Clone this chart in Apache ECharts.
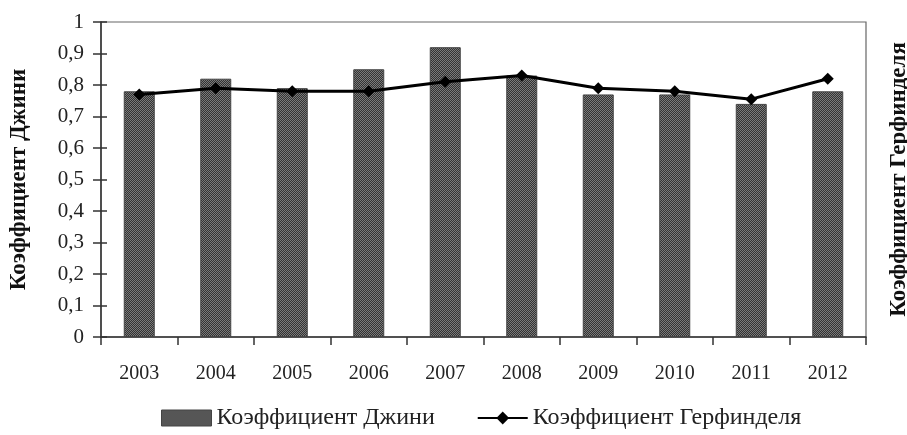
<!DOCTYPE html>
<html><head><meta charset="utf-8">
<script src="https://cdn.jsdelivr.net/npm/echarts@6/dist/echarts.min.js"></script>
<style>html,body{margin:0;padding:0;background:#fff}#c{width:907px;height:435px}</style>
</head><body><div id="c"></div>
<script>
const years = ['2003','2004','2005','2006','2007','2008','2009','2010','2011','2012'];
const gini = [0.78, 0.82, 0.79, 0.85, 0.92, 0.83, 0.77, 0.77, 0.74, 0.78];
const herfindahl = [0.77, 0.79, 0.78, 0.78, 0.81, 0.83, 0.79, 0.78, 0.755, 0.82];
const giniName = 'Коэффициент Джини';
const herfName = 'Коэффициент Герфинделя';

const FONT = '"Liberation Serif","Times New Roman",serif';
const pc = document.createElement('canvas');
pc.width = 2; pc.height = 2;
const g = pc.getContext('2d');
g.fillStyle = '#333333'; g.fillRect(0,0,2,2);
g.fillStyle = '#7a7a7a'; g.fillRect(0,0,1,1); g.fillRect(1,1,1,1);
const pattern = {image: pc, repeat: 'repeat'};

const chart = echarts.init(document.getElementById('c'));
const fmt = v => String(Math.round(v*10)/10).replace('.', ',');
chart.setOption({
  animation: false,
  grid: {left: 101, right: 41, top: 22, bottom: 98, outerBoundsMode: 'none', containLabel: false,
         show: true, borderColor: '#666', borderWidth: 1.2},
  legend: {
    bottom: 0, left: 156, itemGap: 42, itemWidth: 50, itemHeight: 16,
    textStyle: {fontFamily: FONT, fontSize: 24, color: '#222'},
    data: [
      {name: giniName, icon: 'rect', itemStyle: {color: pattern, borderColor: '#444', borderWidth: 1}},
      {name: herfName}
    ]
  },
  xAxis: {
    type: 'category', data: years,
    axisLine: {lineStyle: {color: '#333', width: 1.5}},
    axisTick: {show: true, length: 8, lineStyle: {color: '#333', width: 1.5}},
    axisLabel: {fontFamily: FONT, fontSize: 20, color: '#222', margin: 27}
  },
  yAxis: [
    {
      type: 'value', min: 0, max: 1, interval: 0.1, position: 'left',
      name: giniName, nameLocation: 'middle', nameRotate: 90, nameGap: 70,
      nameTextStyle: {fontFamily: FONT, fontSize: 23, fontWeight: 'bold', color: '#111'},
      axisLine: {show: true, lineStyle: {color: '#333', width: 1.5}},
      axisTick: {show: true, length: 8, lineStyle: {color: '#333', width: 1.5}},
      axisLabel: {fontFamily: FONT, fontSize: 21, color: '#222', margin: 17, formatter: fmt},
      splitLine: {show: false}
    },
    {
      type: 'value', min: 0, max: 1, interval: 0.1, position: 'right',
      name: herfName, nameLocation: 'middle', nameRotate: 90, nameGap: 22,
      nameTextStyle: {fontFamily: FONT, fontSize: 23, fontWeight: 'bold', color: '#111'},
      axisLine: {show: false}, axisTick: {show: false}, axisLabel: {show: false},
      splitLine: {show: false}
    },
    {
      type: 'value', min: 0, max: 1, interval: 0.1, position: 'left',
      axisLine: {show: false},
      axisTick: {show: true, inside: true, length: 6, lineStyle: {color: '#333', width: 1.5}},
      axisLabel: {show: false}, splitLine: {show: false}
    }
  ],
  series: [
    {
      name: giniName, type: 'bar', data: gini, barWidth: 31, yAxisIndex: 0,
      itemStyle: {color: pattern, borderColor: '#444', borderWidth: 1}
    },
    {
      name: herfName, type: 'line', data: herfindahl, yAxisIndex: 1,
      symbol: 'diamond', symbolSize: 12, showSymbol: true,
      lineStyle: {color: '#000', width: 3},
      itemStyle: {color: '#000'}
    }
  ]
});
</script></body></html>
